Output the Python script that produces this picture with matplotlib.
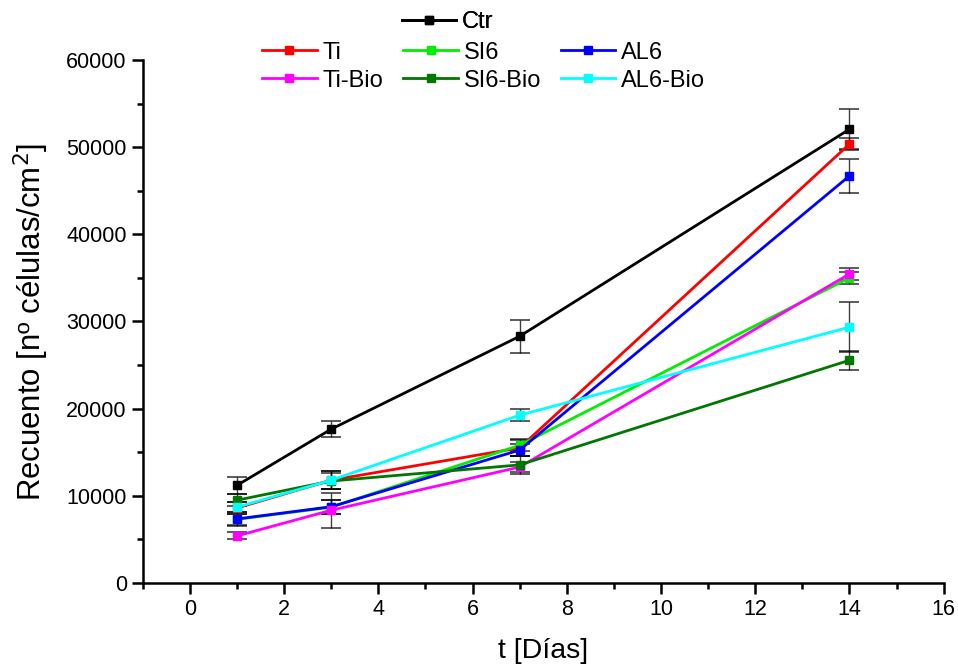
import matplotlib
matplotlib.use("Agg")
import matplotlib.pyplot as plt

plt.rcParams['font.family'] = ['Liberation Sans', 'DejaVu Sans']

days = [1, 3, 7, 14]
names = ["Ctr", "Ti", "SI6", "AL6", "Ti-Bio", "SI6-Bio", "AL6-Bio"]
colors = ["#000000", "#ff0000", "#00ee00", "#0000ff", "#ff00ff", "#007700", "#00ffff"]

ctr = [11200, 17650, 28300, 52050]
ti = [8600, 11800, 15500, 50350]
si6 = [7300, 8700, 15800, 35000]
al6 = [7350, 8750, 15250, 46700]
ti_bio = [5400, 8350, 13300, 35450]
si6_bio = [9500, 11700, 13550, 25550]
al6_bio = [8700, 11800, 19250, 29350]

ctr_err = [1000, 950, 1900, 2300]
ti_err = [700, 1000, 900, 700]
si6_err = [600, 800, 700, 700]
al6_err = [800, 800, 700, 1950]
ti_bio_err = [400, 2000, 600, 700]
si6_bio_err = [700, 900, 1000, 1100]
al6_bio_err = [600, 1000, 700, 2900]

series = [ctr, ti, si6, al6, ti_bio, si6_bio, al6_bio]
errs = [ctr_err, ti_err, si6_err, al6_err, ti_bio_err, si6_bio_err, al6_bio_err]

fig = plt.figure(figsize=(9.58, 6.66), dpi=100)
ax = fig.add_axes([0.149, 0.1246, 0.836, 0.7854])

handles = []
for name, col, vals, er in zip(names, colors, series, errs):
    ax.errorbar(days, vals, yerr=er, fmt='none', ecolor='black', elinewidth=1,
                capsize=7.5, capthick=1.2, alpha=0.75, zorder=2)
    ln, = ax.plot(days, vals, '-s', color=col, lw=2, ms=6, zorder=3, label=name)
    handles.append(ln)

ax.set_xlim(-1, 16)
ax.set_ylim(0, 60000)
ax.set_xticks(range(0, 17, 2))
ax.set_xticks(range(-1, 17, 1), minor=True)
ax.set_yticks(range(0, 60001, 10000))
ax.set_yticks(range(0, 60001, 5000), minor=True)
ax.spines['top'].set_visible(False)
ax.spines['right'].set_visible(False)
for s in ['left', 'bottom']:
    ax.spines[s].set_linewidth(1.8)
ax.tick_params(axis='both', which='major', direction='out', length=8, width=1.8, labelsize=15.5)
ax.tick_params(axis='both', which='minor', direction='out', length=4.5, width=1.8)
ax.set_xlabel("t [Días]", fontsize=20.5, labelpad=13)
ax.set_ylabel("Recuento [nº células/cm$^2$]", fontsize=22.4, labelpad=11)

leg1 = fig.legend([handles[0]], [names[0]], loc='center', bbox_to_anchor=(0.467, 0.967),
                  frameon=False, fontsize=17, handlelength=2.3, handletextpad=0.25,
                  borderpad=0, borderaxespad=0)
fig.add_artist(leg1)
order = [1, 4, 2, 5, 3, 6]
fig.legend([handles[i] for i in order], [names[i] for i in order], loc='center',
           bbox_to_anchor=(0.505, 0.9), ncol=3,
           frameon=False, fontsize=17, handlelength=2.3, handletextpad=0.25,
           columnspacing=0.85, labelspacing=0.25, borderpad=0, borderaxespad=0)

fig.savefig("out.png", dpi=100)
